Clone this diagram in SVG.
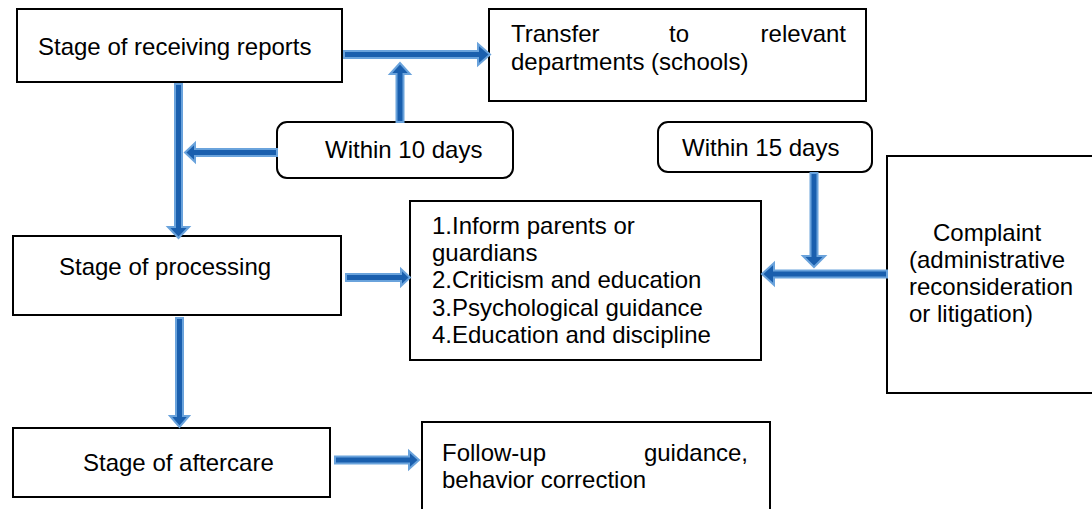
<svg xmlns="http://www.w3.org/2000/svg" width="1092" height="509" viewBox="0 0 1092 509">
<style>
.box{fill:#fff;stroke:#000;stroke-width:2}
.t{font-family:"Liberation Sans",Arial,sans-serif;font-size:24px;fill:#000}
.arr{fill:#1a5fae;stroke:#6aa3dc;stroke-width:2;stroke-linejoin:miter}
</style>
<rect width="1092" height="509" fill="#fff"/>
<g id="n-receiving"><rect class="box" x="17" y="9" width="325" height="73"/><text class="t" x="38" y="55">Stage of receiving reports</text></g>
<g id="n-transfer"><rect class="box" x="489" y="9" width="377" height="92"/><text class="t" x="511" y="42">Transfer</text><text class="t" x="669" y="42">to</text><text class="t" x="846" y="42" text-anchor="end">relevant</text><text class="t" x="511" y="70">departments (schools)</text></g>
<g id="n-within10"><rect class="box" x="277" y="122" width="236" height="56" rx="10"/><text class="t" x="325" y="158">Within 10 days</text></g>
<g id="n-within15"><rect class="box" x="658" y="122" width="214" height="50" rx="10"/><text class="t" x="682" y="156">Within 15 days</text></g>
<g id="n-complaint"><rect class="box" x="887" y="156" width="215" height="237"/><text class="t" x="933" y="241">Complaint</text><text class="t" x="909" y="268">(administrative</text><text class="t" x="909" y="295">reconsideration</text><text class="t" x="909" y="322">or litigation)</text></g>
<g id="n-measures"><rect class="box" x="410" y="201" width="351" height="159"/><text class="t" x="432" y="234">1.Inform parents or</text><text class="t" x="432" y="261">guardians</text><text class="t" x="432" y="288">2.Criticism and education</text><text class="t" x="432" y="316">3.Psychological guidance</text><text class="t" x="432" y="343">4.Education and discipline</text></g>
<g id="n-processing"><rect class="box" x="13" y="236" width="328" height="79"/><text class="t" x="59" y="275">Stage of processing</text></g>
<g id="n-aftercare"><rect class="box" x="13" y="428" width="317" height="69"/><text class="t" x="83" y="471">Stage of aftercare</text></g>
<g id="n-followup"><rect class="box" x="422" y="422" width="348" height="100"/><text class="t" x="442" y="461">Follow-up</text><text class="t" x="748" y="461" text-anchor="end">guidance,</text><text class="t" x="442" y="488">behavior correction</text></g>
<g id="connectors">
<polygon class="arr" points="344,51 478,51 478,44 490,54.5 478,65 478,58 344,58"/>
<polygon class="arr" points="396.5,122 396.5,74 390,74 400,63 410,74 403.5,74 403.5,122"/>
<polygon class="arr" points="175,84 175,227 168,227 178.5,238 189,227 182,227 182,84"/>
<polygon class="arr" points="277,149 195,149 195,143 185,152.5 195,162 195,156 277,156"/>
<polygon class="arr" points="810.5,173 810.5,256 803,256 814,267 825,256 817.5,256 817.5,173"/>
<polygon class="arr" points="887,270.5 774,270.5 774,263 762,274 774,285 774,277.5 887,277.5"/>
<polygon class="arr" points="346,274 401,274 401,269 410,277.5 401,286 401,281 346,281"/>
<polygon class="arr" points="176,318 176,416 170,416 179.5,427 189,416 183,416 183,318"/>
<polygon class="arr" points="335,456.5 409,456.5 409,451 419,460 409,469 409,463.5 335,463.5"/>
</g>
</svg>
